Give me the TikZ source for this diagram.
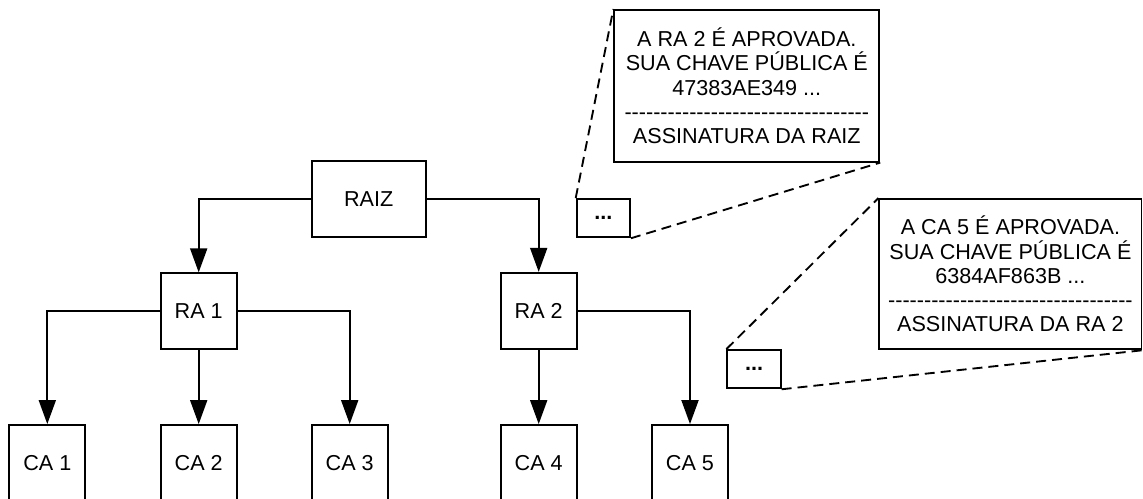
\documentclass[tikz,border=0pt]{standalone}
\usepackage{fontspec}
\setmainfont{Liberation Sans}
\usetikzlibrary{arrows.meta}
\newcommand\dashrow{-{}-{}-{}-{}-{}-{}-{}-{}-{}-{}-{}-{}-{}-{}-{}-{}-{}-{}-{}-{}-{}-{}-{}-{}-{}-{}-{}-{}-{}-{}-{}-{}-{}-{}}
\begin{document}
\begin{tikzpicture}[x=0.75pt,y=-0.75pt,
  font=\fontsize{16.2}{18.2}\selectfont,
  box/.style={draw,line width=1.4pt,inner sep=0pt,align=center},
  sq/.style={box,minimum width=57pt,minimum height=57pt},
  tiny/.style={box,minimum width=40pt,minimum height=28.7pt,font=\fontsize{16.2}{18.2}\selectfont\bfseries},
  arr/.style={line width=1.4pt,-{Triangle[length=18pt,width=12.75pt]}},
  link/.style={line width=1.4pt,dash pattern=on 7.5pt off 4.5pt}]
\useasboundingbox (0,0) rectangle (1143,499);

% hierarchy
\node[box,minimum width=85.5pt,minimum height=57pt] (raiz) at (368.7,199) {RAIZ};
\node[sq] (ra1) at (198.7,311.3) {RA 1};
\node[sq] (ra2) at (538.7,310.8) {RA 2};
\node[sq] (ca1) at (47.3,463) {CA 1};
\node[sq] (ca2) at (198.7,463) {CA 2};
\node[sq] (ca3) at (349.7,463) {CA 3};
\node[sq] (ca4) at (538.7,463) {CA 4};
\node[sq] (ca5) at (690,463) {CA 5};

\draw[arr] (raiz.west) -| (ra1.north);
\draw[arr] (raiz.east) -| (ra2.north);
\draw[arr] (ra1.west) -| (ca1.north);
\draw[arr] (ra1.south) -- (ca2.north);
\draw[arr] (ra1.east) -| (ca3.north);
\draw[arr] (ra2.south) -- (ca4.north);
\draw[arr] (ra2.east) -| (ca5.north);

% certificates
\node[tiny] (s1) at (603.3,218.2) {...};
\node[box,minimum width=198.75pt,minimum height=113.8pt] (b1) at (746.8,85.8)
  {A RA 2 É APROVADA.\\SUA CHAVE PÚBLICA É\\47383AE349 ...\\\dashrow\\ASSINATURA DA RAIZ};
\node[tiny] (s2) at (754,369.2) {...};
\node[box,minimum width=196.6pt,minimum height=112.7pt] (b2) at (1010.4,274.2)
  {A CA 5 É APROVADA.\\SUA CHAVE PÚBLICA É\\6384AF863B ...\\\dashrow\\ASSINATURA DA RA 2};

\draw[link] (s1.north west) -- (b1.north west);
\draw[link] (s1.south east) -- (b1.south east);
\draw[link] (s2.north west) -- (b2.north west);
\draw[link] (s2.south east) -- (b2.south east);
\end{tikzpicture}
\end{document}
